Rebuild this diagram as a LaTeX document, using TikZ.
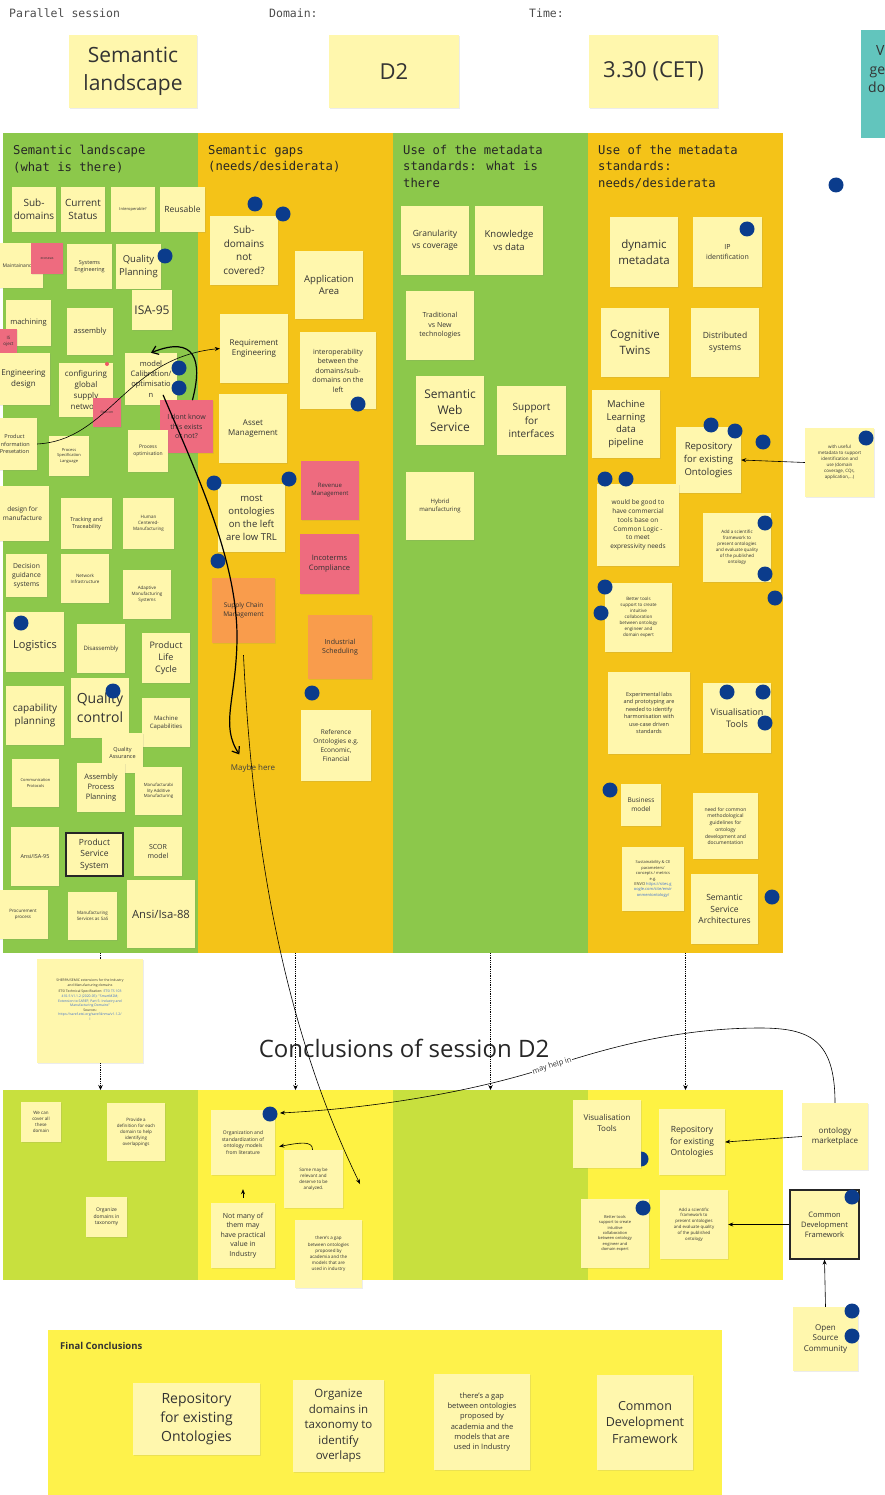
\documentclass[tikz,border=0pt]{standalone}
\usepackage{fontspec}
\setmainfont{Open Sans}
\newfontfamily\monof{DejaVu Sans Mono}
\usetikzlibrary{arrows.meta,shadows}
\definecolor{colG}{HTML}{8CC84B}
\definecolor{colO}{HTML}{F4C318}
\definecolor{noteY}{HTML}{FFF7AD}
\definecolor{pinkN}{HTML}{EE6B7F}
\definecolor{orangeN}{HTML}{F99C4C}
\definecolor{dotc}{HTML}{0B3C8C}
\definecolor{limeC}{HTML}{C8E03E}
\definecolor{yelC}{HTML}{FEF243}
\definecolor{finY}{HTML}{FEF24B}
\definecolor{tealN}{HTML}{62C5BD}
\definecolor{txt}{HTML}{333333}
\definecolor{linkc}{HTML}{3B6FD0}
\newcommand\fs[1]{\fontsize{#1}{\dimexpr #1pt*27/20\relax}\selectfont}
\tikzset{
 note/.style={fill=noteY, text=txt, align=center, inner sep=1pt,
   drop shadow={opacity=0.15,shadow xshift=0.6pt,shadow yshift=-1.2pt}},
 pinknote/.style={fill=pinkN},
 orangenote/.style={fill=orangeN},
 boxed/.style={draw=black!85, line width=1.3pt},
 area/.style={anchor=north west, inner sep=0pt, outer sep=0pt},
 coltitle/.style={anchor=north west, align=left, inner sep=0pt, font=\monof\fontsize{12.2}{16.5}\selectfont, text=black!85},
 hdrlabel/.style={anchor=west, inner sep=0pt, font=\monof\fontsize{11.5}{14}\selectfont, text=black!70},
 dotted arrow/.style={densely dotted, line width=0.8pt, -{Stealth[length=5pt,width=4.5pt]}},
 thin arrow/.style={line width=0.6pt, -{Stealth[length=5pt,width=4pt]}},
 hand/.style={line width=1.2pt, line cap=round, line join=round},
}
\newcommand\sn[8][]{\node[note,minimum width=#5pt,minimum height=#6pt,font=\fs{#7},#1] (#2) at ({#3+#5/2},{#4+#6/2}) {#8};}
\newcommand\dt[2]{\fill[dotc] (#1,#2) circle (7.5pt);}
\begin{document}
\begin{tikzpicture}[x=1pt,y=-1pt]
\useasboundingbox (0,0) rectangle (885,1495);
\clip (0,0) rectangle (885,1495);
% header
\node[hdrlabel] (lblsess) at (9,13) {Parallel session};
\node[hdrlabel] (lbldom) at (269,13) {Domain:};
\node[hdrlabel] (lbltime) at (529,13) {Time:};
\sn{hsem}{69}{35}{128}{73}{21}{Semantic\\landscape}
\sn{hdom}{329}{35}{130}{73}{22}{D2}
\sn{htime}{589}{35}{129}{73}{22}{3.30 (CET)}
\node[fill=tealN, anchor=north west, minimum width=40pt, minimum height=108pt, inner sep=0pt] (teal) at (861,30) {};
\node[anchor=north west, align=left, font=\fs{14}, text=txt, inner sep=0pt] (tealtxt) at (868,45) {\hspace*{8pt}V\\\hspace*{1.5pt}ge\\do};
% columns
\node[area, fill=colG, minimum width=195pt, minimum height=820pt] (col1) at (3,133) {};
\node[area, fill=colO, minimum width=195pt, minimum height=820pt] (col2) at (198,133) {};
\node[area, fill=colG, minimum width=195pt, minimum height=820pt] (col3) at (393,133) {};
\node[area, fill=colO, minimum width=195pt, minimum height=820pt] (col4) at (588,133) {};
\node[coltitle] (t1) at (13,145) {Semantic landscape\\(what is there)};
\node[coltitle] (t2) at (208,145) {Semantic gaps\\(needs/desiderata)};
\node[coltitle] (t3) at (403,145) {Use of the metadata\\standards: what is\\there};
\node[coltitle] (t4) at (598,145) {Use of the metadata\\standards:\\needs/desiderata};
% column 1
\sn{subdom}{12}{187}{44}{45}{10}{Sub-\\domains}
\sn{curstat}{61}{187}{44}{45}{10}{Current\\Status}
\sn{interop}{111}{187}{44}{45}{4}{Interoperable?}
\sn{reusable}{160}{187}{45}{45}{8.5}{Reusable}
\sn{maint}{-6}{243}{49}{45}{5}{Maintainance}
\sn[pinknote]{ecos}{31}{243}{32}{31}{3.5}{ecoseas}
\sn{syseng}{67}{244}{45}{45}{5.5}{Systems\\Engineering}
\sn{qplan}{116}{244}{45}{45}{9.5}{Quality\\Planning}
\sn{isa95}{132}{290}{40}{40}{12}{ISA-95}
\sn{machining}{6}{300}{45}{46}{7.5}{machining}
\sn[pinknote,inner sep=0pt]{misproj}{0}{329}{17}{25}{4.5}{IS\\oject}
\sn{assembly}{67}{308}{46}{47}{7.5}{assembly}
\sn{engdes}{-3}{353}{53}{52}{8}{Engineering\\design}
\sn{config}{59}{363}{54}{54}{8}{configuring\\global\\supply\\network}
\sn{calib}{125}{353}{52}{52}{7.5}{model\\Calibration/\\optimisatio\\n}
\sn[pinknote]{flex}{93}{398}{28}{29}{3.5}{flexicon}
\sn[pinknote]{dontknow}{160}{400}{53}{53}{7}{I dont know\\this exists\\or not?}
\sn{prodinfo}{-8}{418}{45}{52}{5.5}{Product\\Information\\Presetation}
\sn{procspec}{49}{436}{40}{40}{4}{Process\\Specification\\Language}
\sn{procopt}{128}{430}{40}{42}{5}{Process\\optimisation}
\sn{dfm}{-4}{486}{53}{55}{6.5}{design for\\manufacture}
\sn{track}{61}{498}{51}{51}{5.5}{Tracking and\\Traceability}
\sn{human}{123}{498}{51}{51}{4.5}{Human\\Centered-\\Manufacturing}
\sn{decision}{6}{554}{41}{43}{6.8}{Decision\\guidance\\systems}
\sn{netinf}{61}{554}{48}{49}{4.5}{Network\\Infrastructure}
\sn{adaptive}{123}{570}{48}{49}{4.5}{Adaptive\\Manufacturing\\Systems}
\sn{logistics}{6}{612}{58}{60}{11}{\\Logistics}
\sn{disass}{77}{624}{48}{49}{6}{Disassembly}
\sn{plc}{142}{633}{48}{50}{9}{Product\\Life\\Cycle}
\sn{capplan}{6}{686}{58}{59}{10}{capability\\planning}
\sn{qcontrol}{71}{678}{58}{60}{14}{Quality\\control}
\sn{machcap}{142}{698}{48}{49}{6}{Machine\\Capabilities}
\sn{qassur}{102}{733}{41}{40}{5.5}{Quality\\Assurance}
\sn{commprot}{12}{759}{47}{48}{4}{Communication\\Protocols}
\sn{asmplan}{77}{763}{48}{49}{7.5}{Assembly\\Process\\Planning}
\sn{manadd}{135}{767}{47}{48}{4.3}{Manufacturabi\\lity Additive\\Manufacturing}
\sn{ansi95}{11}{827}{48}{59}{5.5}{Ansi/ISA-95}
\sn[boxed]{pss}{66}{833}{57}{43}{8.5}{Product\\Service\\System}
\sn{scor}{134}{827}{48}{49}{7}{SCOR\\model}
\sn{procure}{-2}{890}{50}{49}{4.5}{Procurement\\process}
\sn{mfgsas}{68}{892}{49}{48}{4.5}{Manufacturing\\Services as SaS}
\sn{ansi88}{127}{880}{68}{68}{11.3}{Ansi/Isa-88}
\fill[pinkN!80!red] (107,364) circle (2pt);
% column 2
\sn{subnot}{210}{216}{68}{69}{10}{Sub-\\domains\\not\\covered?}
\sn{apparea}{295}{251}{68}{68}{9.5}{Application\\Area}
\sn{reqeng}{220}{314}{68}{69}{8}{Requirement\\Engineering}
\sn{interop2}{300}{332}{76}{77}{7}{interoperability\\between the\\domains/sub-\\domains on the\\left}
\sn{asset}{219}{394}{68}{69}{8}{Asset\\Management}
\sn{mostonto}{218}{484}{67}{68}{9.5}{most\\ontologies\\on the left\\are low TRL}
\sn[pinknote]{revenue}{301}{461}{58}{59}{6}{Revenue\\Management}
\sn[pinknote]{incoterms}{300}{534}{59}{60}{7.5}{Incoterms\\Compliance}
\sn[orangenote]{supply}{212}{578}{63}{65}{6.5}{Supply Chain\\Management}
\sn[orangenote]{indsched}{308}{615}{64}{64}{7}{Industrial\\Scheduling}
\sn{refonto}{301}{710}{70}{71}{6.5}{Reference\\Ontologies e.g.\\Economic,\\Financial}
\node[font=\fs{8}, text=black!75] (maybe) at (253,768) {Maybe here};
% column 3
\sn{gran}{401}{206}{68}{69}{8.5}{Granularity\\vs coverage}
\sn{know}{475}{206}{68}{69}{9.5}{Knowledge\\vs data}
\sn{trad}{406}{291}{68}{69}{7}{Traditional\\vs New\\technologies}
\sn{sws}{416}{376}{68}{69}{12}{Semantic\\Web\\Service}
\sn{supint}{497}{386}{69}{69}{10}{Support\\for\\interfaces}
\sn{hybrid}{406}{472}{68}{68}{6}{Hybrid\\manufacturing}
% column 4
\sn{dynmeta}{610}{217}{68}{70}{11.5}{dynamic\\metadata}
\sn{ipid}{693}{217}{69}{70}{7}{IP\\identification}
\sn{cogtw}{601}{308}{68}{69}{11.5}{Cognitive\\Twins}
\sn{distsys}{691}{308}{68}{69}{8.5}{Distributed\\systems}
\sn{mlpipe}{592}{390}{68}{68}{9.5}{Machine\\Learning\\data\\pipeline}
\sn{repo}{676}{427}{65}{66}{9.5}{Repository\\for existing\\Ontologies}
\sn{commlogic}{597}{484}{82}{82}{6.5}{would be good to\\have commercial\\tools base on\\Common Logic -\\to meet\\expressivity needs}
\sn{scifw}{703}{513}{68}{69}{4.5}{Add a scientific\\framework to\\present ontologies\\and evaluate quality\\of the published\\ontology}
\sn{useful}{805}{428}{69}{69}{4.5}{with useful\\metadata to support\\identification and\\use (domain\\coverage, CQs,\\application,...)}
\sn{bettertools}{605}{583}{67}{69}{4.5}{Better tools\\support to create\\intuitive\\collaboration\\between ontology\\engineer and\\domain expert}
\sn{explabs}{608}{672}{82}{82}{5.5}{Experimental labs\\and prototyping are\\needed to identify\\harmonisation with\\use-case driven\\standards}
\sn{vistools}{703}{683}{68}{70}{9}{Visualisation\\Tools}
\sn{bizmodel}{621}{784}{40}{42}{6.5}{Business\\model}
\sn{methguid}{693}{793}{65}{66}{5}{need for common\\methodological\\guidelines for\\ontology\\development and\\documentation}
\sn{sustain}{622}{847}{62}{64}{4}{Sustainability \& CE\\parameters/\\concepts / metrics\\e.g.\\ENVO {\color{linkc}https://sites.g}\\{\color{linkc}oogle.com/site/envir}\\{\color{linkc}onmentontology/}}
\sn{ssa}{691}{874}{67}{70}{8.5}{Semantic\\Service\\Architectures}
% SHERPA
\sn{sherpa}{37}{959}{106}{104}{3.4}{SHERPA/SEMIC extensions for the Industry\\and Manufacturing domains\\[2pt]ETSI Technical Specification: {\color{linkc}ETSI TS 103}\\{\color{linkc}410-5 V1.1.2 (2020-05): "SmartM2M;}\\{\color{linkc}Extension to SAREF; Part 5: Industry and}\\{\color{linkc}Manufacturing Domains"}\\Sources:\\{\color{linkc}https://saref.etsi.org/saref4inma/v1.1.2/}\\{\color{linkc}l}\\[18pt]}
\node[font=\fs{24}, text=black!85] (conctitle) at (404,1048) {Conclusions of session D2};
% conclusions area
\node[area, fill=limeC, minimum width=195pt, minimum height=190pt] (c1) at (3,1090) {};
\node[area, fill=yelC, minimum width=195pt, minimum height=190pt] (c2) at (198,1090) {};
\node[area, fill=limeC, minimum width=195pt, minimum height=190pt] (c3) at (393,1090) {};
\node[area, fill=yelC, minimum width=195pt, minimum height=190pt] (c4) at (588,1090) {};
\sn{wecan}{21}{1102}{40}{40}{4.5}{We can\\cover all\\these\\domain}
\sn{provide}{107}{1103}{58}{58}{4.5}{Provide a\\definition for each\\domain to help\\identifying\\overlappings}
\sn{organize}{86}{1197}{41}{40}{5}{Organize\\domains in\\taxonomy}
\sn{orgstd}{211}{1110}{64}{65}{5}{Organization and\\standardization of\\ontology models\\from literature}
\sn{somemay}{284}{1150}{59}{58}{4.5}{Some may be\\relevant and\\deserve to be\\analyzed.}
\sn{notmany}{211}{1203}{64}{65}{7}{Not many of\\them may\\have practical\\value in\\Industry}
\sn{gap}{295}{1220}{67}{68}{4.5}{there's a gap\\between ontologies\\proposed by\\academia and the\\models that are\\used in industry}
\dt{641}{1159}
\sn{vis2}{573}{1100}{68}{68}{8}{Visualisation\\Tools\\[12pt]}
\sn{repo2}{659}{1109}{66}{66}{8.5}{Repository\\for existing\\Ontologies}
\sn{better2}{581}{1199}{68}{69}{4}{Better tools\\support to create\\intuitive\\collaboration\\between ontology\\engineer and\\domain expert}
\sn{sci2}{660}{1190}{68}{69}{4.3}{Add a scientific\\framework to\\present ontologies\\and evaluate quality\\of the published\\ontology}
\sn{market}{802}{1103}{66}{67}{8}{ontology\\marketplace}
\sn[boxed]{cdf}{790}{1190}{69}{69}{7.5}{Common\\Development\\Framework}
\sn{oss}{793}{1307}{65}{64}{8}{Open\\Source\\Community}
% final conclusions
\node[area, fill=finY, minimum width=674pt, minimum height=165pt] (fin) at (48,1330) {};
\node[anchor=west, font=\bfseries\fs{9.5}, text=txt, inner sep=0pt] (fintitle) at (60,1346) {Final Conclusions};
\sn{f1}{133}{1383}{127}{72}{14}{Repository\\for existing\\Ontologies}
\sn{f2}{293}{1380}{91}{92}{11.5}{Organize\\domains in\\taxonomy to\\identify\\overlaps}
\sn{f3}{434}{1374}{96}{96}{7.5}{there's a gap\\between ontologies\\proposed by\\academia and the\\models that are\\used in Industry}
\sn{f4}{597}{1375}{96}{95}{12.5}{Common\\Development\\Framework}
% dots
\foreach \p/\q in {165/256,179/368,179/388,21/623,113/691,
  255/204,283/214,358/404,214/483,289/479,218/561,312/693,
  836/185,747/229,711/425,735/431,763/442,605/479,626/479,765/523,765/574,775/598,
  605/587,601/613,727/692,763/692,765/723,610/790,772/897,866/438,
  270/1114,643/1208,852/1197,852/1311,852/1336}{\dt{\p}{\q}}
% connectors
\draw[thin arrow] (prodinfo.east) .. controls (110,440) and (125,358) .. (reqeng.west);
\draw[hand, -{Straight Barb[length=6pt,width=9pt]}] ([xshift=6pt]dontknow.north) .. controls (203,360) and (195,335) .. (calib.north);
\draw[hand, -{Straight Barb[length=6pt,width=9pt]}] ([xshift=-14pt,yshift=10pt]calib.south east) .. controls (195,470) and (238,560) .. (237,640) .. controls (236,700) and (220,725) .. ([xshift=12pt,yshift=6pt]maybe.north west);
\coordinate (gapend) at (360,1184);
\draw[thin arrow] ([yshift=-12pt]supply.south) .. controls (255,900) and (300,1060) .. (gapend);
\draw[thin arrow] (useful.west) -- (repo.east);
\draw[densely dotted, line width=0.8pt] (col1.south) -- (col1.south |- sherpa.north);
\draw[dotted arrow] (sherpa.south -| col1.south) -- (c1.north -| col1.south);
\draw[dotted arrow] (col2.south) -- (c2.north);
\draw[dotted arrow] (col3.south) -- (c3.north);
\draw[dotted arrow] (col4.south) -- (c4.north);
\coordinate (mhend) at (280,1113);
\draw[thin arrow] (market.north) .. controls (835,1040) and (810,1028) .. (760,1028) .. controls (680,1028) and (610,1047) .. (552,1066) .. controls (480,1090) and (380,1108) .. (mhend);
\node[rotate=18, fill=white, inner sep=0.8pt, font=\fs{7.5}, text=txt] (mayhelp) at (552,1066) {may help in};
\draw[thin arrow] (market.west) -- (repo2.east);
\draw[thin arrow] (cdf.west) -- (sci2.east);
\draw[thin arrow] (oss.north) -- (cdf.south);
\draw[thin arrow] ([xshift=-1pt]somemay.north) .. controls (313,1140) and (298,1143) .. ([xshift=4pt,yshift=-4pt]orgstd.east);
\draw[thin arrow, shorten <=5pt, shorten >=14pt] (notmany.north) -- (orgstd.south);
\end{tikzpicture}
\end{document}
